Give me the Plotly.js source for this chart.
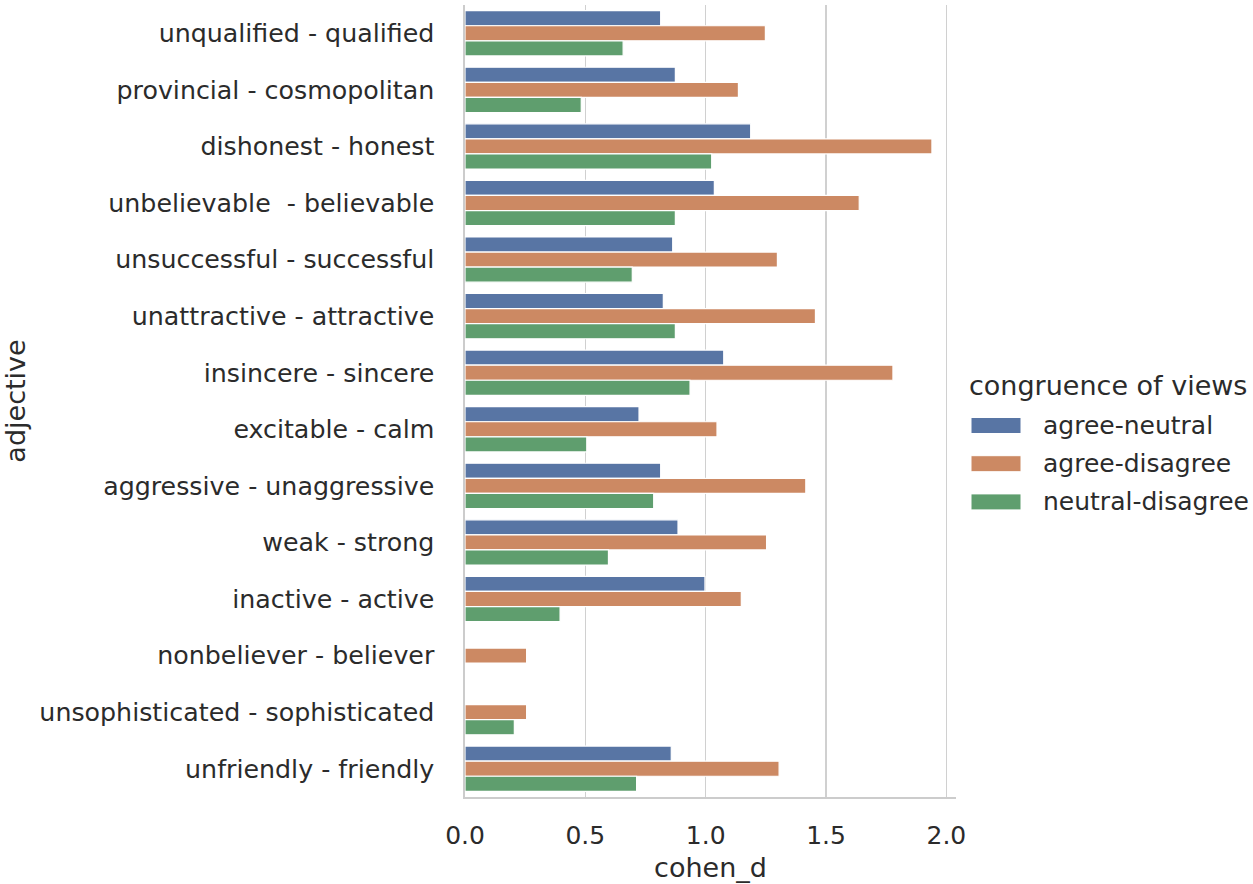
<!DOCTYPE html>
<html><head><meta charset="utf-8">
<script src="https://cdn.plot.ly/plotly-3.0.1.min.js"></script>
<style>html,body{margin:0;padding:0;background:#fff}#chart{width:1253px;height:884px}</style>
</head><body><div id="chart"></div>
<script>
const categories = [
  'unqualified - qualified',
  'provincial - cosmopolitan',
  'dishonest - honest',
  'unbelievable  - believable',
  'unsuccessful - successful',
  'unattractive - attractive',
  'insincere - sincere',
  'excitable - calm',
  'aggressive - unaggressive',
  'weak - strong',
  'inactive - active',
  'nonbeliever - believer',
  'unsophisticated - sophisticated',
  'unfriendly - friendly'
];
const agreeNeutral    = [0.813, 0.874, 1.187, 1.036, 0.863, 0.824, 1.075, 0.723, 0.813, 0.885, 0.997, null, null, 0.857];
const agreeDisagree   = [1.248, 1.136, 1.940, 1.638, 1.298, 1.456, 1.778, 1.047, 1.416, 1.253, 1.148, 0.256, 0.256, 1.305];
const neutralDisagree = [0.657, 0.483, 1.025, 0.874, 0.695, 0.874, 0.935, 0.506, 0.784, 0.596, 0.395, null, 0.205, 0.713];
const seriesNames  = ['agree-neutral', 'agree-disagree', 'neutral-disagree'];
const seriesColors = ['#5875a4', '#cc8963', '#5f9e6e'];
const xTicks = [0, 0.5, 1.0, 1.5, 2.0];
const legendTitle = 'congruence of views';

const seriesValues = [agreeNeutral, agreeDisagree, neutralDisagree];
const traces = seriesValues.map((vals, i) => ({
  type: 'bar', orientation: 'h',
  y: categories, x: vals, name: seriesNames[i],
  marker: {color: seriesColors[i], line: {color: '#ffffff', width: 1.2}},
  hoverinfo: 'x+y+name'
}));

// custom legend (seaborn-like wide swatches)
const plotL = 465, plotR = 956, plotT = 5, plotB = 797;
const pw = plotR - plotL, ph = plotB - plotT;
const px = v => (v - plotL) / pw;
const py = v => (plotB - v) / ph;
const shapes = [], annotations = [];
annotations.push({xref: 'paper', yref: 'paper', x: px(967), y: py(385), xanchor: 'left', yanchor: 'middle',
  text: legendTitle, showarrow: false, font: {size: 27, color: '#2b2b2b', family: 'DejaVu Sans'}});
seriesNames.forEach((n, i) => {
  const cy = 425.5 + i * 38.2;
  shapes.push({type: 'rect', xref: 'paper', yref: 'paper', x0: px(971), x1: px(1021), y0: py(cy + 8), y1: py(cy - 8),
    fillcolor: seriesColors[i], line: {color: '#ffffff', width: 1}});
  annotations.push({xref: 'paper', yref: 'paper', x: px(1041), y: py(cy), xanchor: 'left', yanchor: 'middle',
    text: n, showarrow: false, font: {size: 25, color: '#2b2b2b', family: 'DejaVu Sans'}});
});

const layout = {
  width: 1253, height: 884,
  paper_bgcolor: '#ffffff', plot_bgcolor: '#ffffff',
  margin: {l: plotL, r: 1253 - plotR, t: plotT, b: 884 - plotB},
  barmode: 'group', bargap: 0.2, bargroupgap: 0,
  font: {family: 'DejaVu Sans', color: '#2b2b2b', size: 25},
  showlegend: false,
  xaxis: {
    range: [0, 2.04], tickvals: xTicks, tickformat: '.1f',
    showgrid: true, gridcolor: '#d0d0d0', gridwidth: 1.6,
    showline: true, linecolor: '#cccccc', linewidth: 1.6, zeroline: false,
    ticks: 'outside', ticklen: 15, tickcolor: 'rgba(0,0,0,0)',
    tickfont: {size: 25, color: '#2b2b2b'},
    title: {text: 'cohen_d', font: {size: 27, color: '#2b2b2b'}, standoff: 9},
    automargin: false
  },
  yaxis: {
    type: 'category', range: [categories.length - 0.5, -0.5],
    showgrid: false, showline: true, linecolor: '#cccccc', linewidth: 1.6, zeroline: false,
    ticks: 'outside', ticklen: 24, tickcolor: 'rgba(0,0,0,0)',
    tickfont: {size: 25.3, color: '#2b2b2b'},
    title: {text: 'adjective', font: {size: 27, color: '#2b2b2b'}, standoff: 10},
    automargin: false
  },
  shapes: shapes,
  annotations: annotations
};
Plotly.newPlot('chart', traces, layout, {displayModeBar: false, staticPlot: true});
</script>
</body></html>
